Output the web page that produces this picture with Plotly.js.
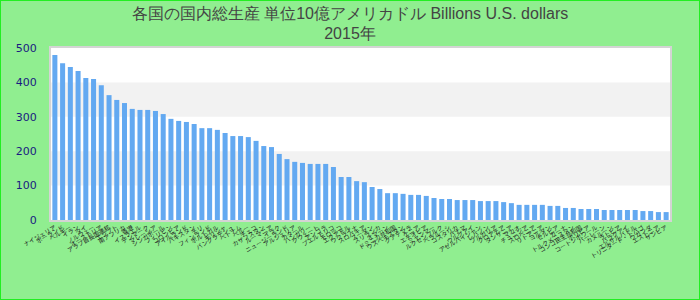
<!DOCTYPE html>
<html>
<head>
<meta charset="utf-8">
<script src="https://cdn.plot.ly/plotly-3.0.1.min.js"></script>
<style>
html,body{margin:0;padding:0;background:#90ee90;}
#chart{width:700px;height:300px;position:relative;}
#frame{position:absolute;left:0;top:0;width:700px;height:300px;box-sizing:border-box;border:1px solid #22ee22;pointer-events:none;}
</style>
</head>
<body>
<div id="chart"></div>
<div id="frame"></div>
<script>
const countries = [
"ナイジェリア","ポーランド","ベルギー","イラン","タイ","ノルウェー","オーストリア","アラブ首長国連邦","エジプト","南アフリカ",
"香港","イスラエル","デンマーク","マレーシア","シンガポール","フィリピン","コロンビア","アイルランド","パキスタン","チリ",
"フィンランド","ポルトガル","ギリシャ","バングラデシュ","ベトナム","ペルー","チェコ","カザフスタン","ルーマニア","イラク",
"ニュージーランド","アルジェリア","カタール","ハンガリー","クウェート","アンゴラ","プエルトリコ","モロッコ","エクアドル","ウクライナ",
"スロバキア","スーダン","スリランカ","オマーン","ドミニカ共和国","ウズベキスタン","グアテマラ","ケニア","エチオピア","ミャンマー",
"ルクセンブルク","ベラルーシ","コスタリカ","パナマ","ウルグアイ","アゼルバイジャン","レバノン","ブルガリア","クロアチア","タンザニア",
"マカオ","チュニジア","スロベニア","リトアニア","ヨルダン","セルビア","ガーナ","トルクメニスタン","コンゴ民主共和国","ボリビア",
"コートジボワール","バーレーン","カメルーン","ラトビア","パラグアイ","エルサルバドル","トリニダード・トバゴ","ウガンダ","エストニア","ザンビア"
];
const gdp2015 = [
480,456,445,433,413,410,392,363,349,340,
323,320,320,317,308,294,288,285,279,267,
267,262,253,244,244,241,230,215,212,192,
177,169,166,163,163,163,154,125,125,113,
110,96,90,78,78,76,73,73,70,64,
61,61,58,58,58,55,55,55,52,49,
44,44,44,44,41,41,35,35,32,32,
32,29,29,29,29,29,26,26,23,23
];
const yTicks = [0,100,200,300,400,500];
const titleText = "各国の国内総生産 単位10億アメリカドル Billions U.S. dollars<br>2015年";

const trace = {
  type: 'bar',
  x: countries,
  y: gdp2015,
  marker: {color: '#63a9f1'},
  hoverinfo: 'x+y'
};

const layout = {
  width: 700, height: 300,
  margin: {l: 51, r: 30, t: 48, b: 80, pad: 0},
  paper_bgcolor: '#90ee90',
  plot_bgcolor: '#ffffff',
  bargap: 0.35,
  showlegend: false,
  title: {
    text: titleText,
    x: 0.5, xanchor: 'center',
    y: 0.938, yanchor: 'top', yref: 'container',
    font: {family: 'Liberation Sans, Arial, sans-serif', size: 16, color: '#444444'}
  },
  xaxis: {
    type: 'category',
    tickmode: 'linear', tick0: 0, dtick: 1,
    tickangle: -30,
    tickfont: {family: 'Noto Sans CJK JP, sans-serif', size: 6, color: '#222222'},
    showgrid: false, zeroline: false,
    showline: true, linecolor: '#d4d4d4', linewidth: 2, mirror: true,
    ticks: '', automargin: false
  },
  yaxis: {
    range: [0, 500],
    tickvals: yTicks,
    ticktext: yTicks.map(String),
    tickfont: {family: 'DejaVu Sans, sans-serif', size: 11, color: '#1a1a80'},
    showgrid: false, zeroline: false,
    showline: true, linecolor: '#d4d4d4', linewidth: 2, mirror: true,
    ticks: 'outside', ticklen: 10, tickcolor: 'rgba(0,0,0,0)',
    automargin: false, fixedrange: true
  },
  shapes: [
    {type:'rect', xref:'paper', yref:'y', x0:0, x1:1, y0:yTicks[1], y1:yTicks[2], fillcolor:'#f2f2f2', line:{width:0}, layer:'below'},
    {type:'rect', xref:'paper', yref:'y', x0:0, x1:1, y0:yTicks[3], y1:yTicks[4], fillcolor:'#f2f2f2', line:{width:0}, layer:'below'}
  ]
};

Plotly.newPlot('chart', [trace], layout, {displayModeBar: false, staticPlot: true});
</script>
</body>
</html>
